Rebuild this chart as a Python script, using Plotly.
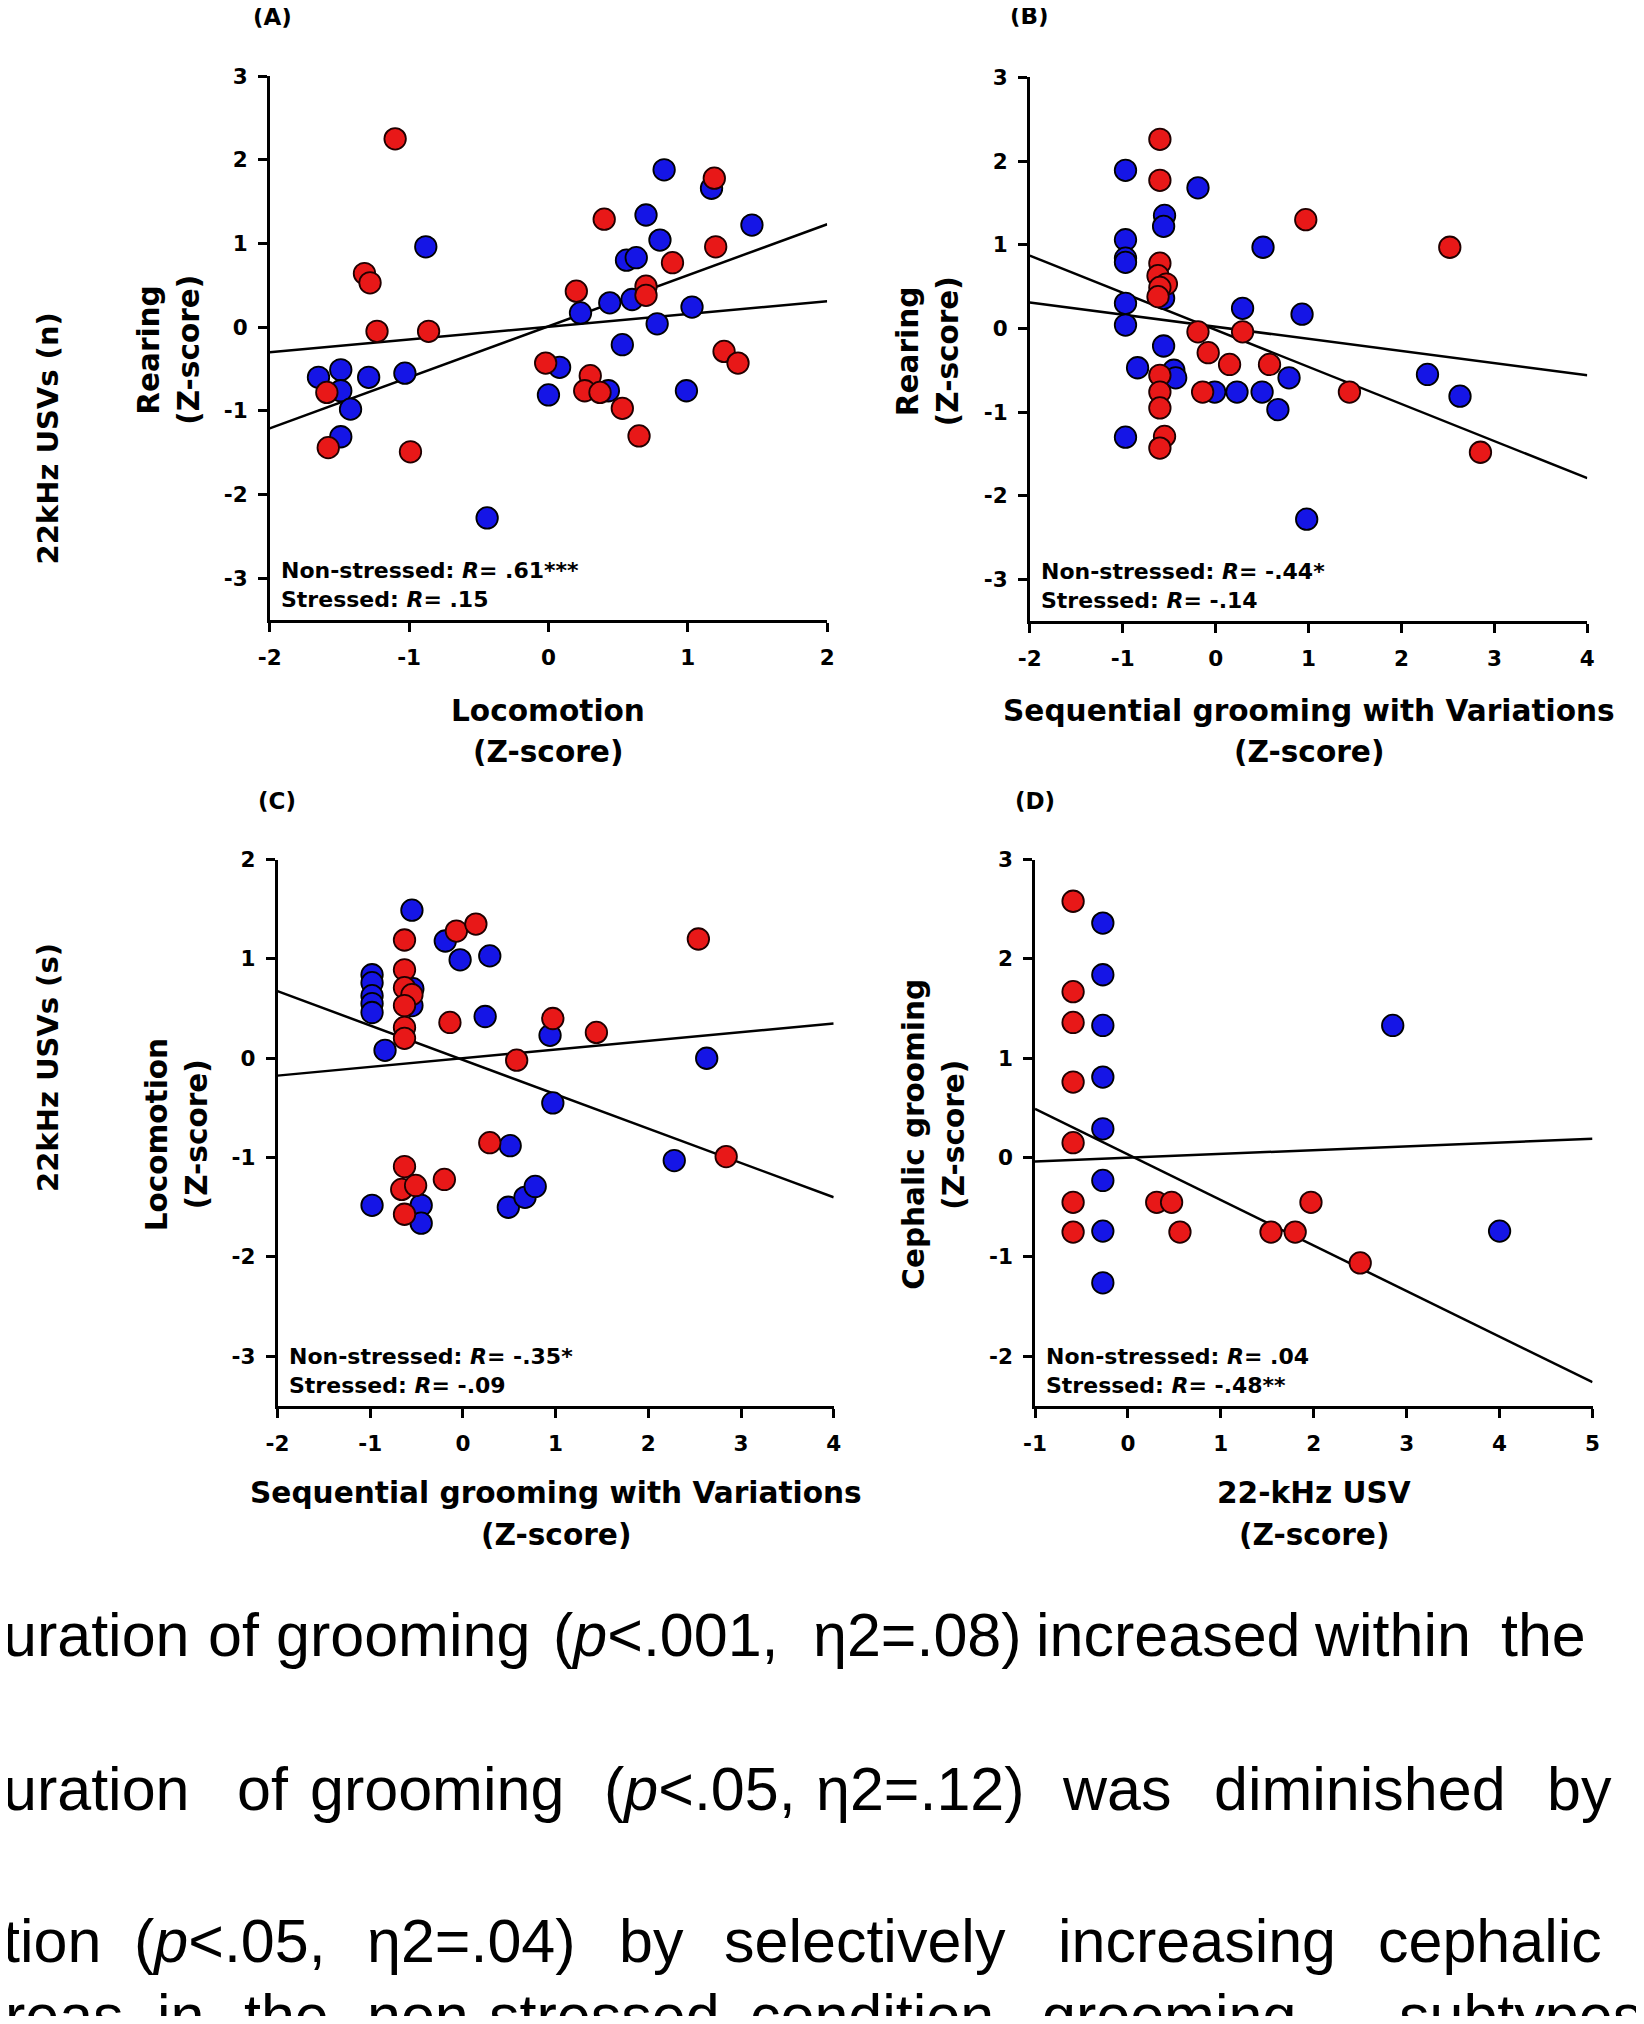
import plotly.graph_objects as go

# Page is 1644x2024; the browser body keeps an 8px margin, so the figure is
# 16px smaller and every page-pixel position is shifted by -8.
PAGE_W, PAGE_H = 1644, 2024
OFF = 8
W, H = PAGE_W - 2 * OFF, PAGE_H - 2 * OFF

# ---------------- DATA ----------------
# Panel A: Rearing vs Locomotion
A_ns_x = [-0.88, -1.65, -1.49, -1.49, -1.42, -1.49, -1.29, -1.03, -0.44, 0.00, 0.08, 0.23, 0.44, 0.53, 0.56, 0.63, 0.60, 0.70, 0.80, 0.78, 0.83, 0.43, 0.99, 1.03, 1.17, 1.46]
A_ns_y = [0.96, -0.60, -0.51, -0.76, -0.98, -1.31, -0.60, -0.55, -2.28, -0.81, -0.48, 0.17, 0.29, -0.21, 0.80, 0.83, 0.33, 1.34, 1.04, 0.04, 1.88, -0.76, -0.76, 0.24, 1.66, 1.22]
A_s_x = [-1.10, -1.32, -1.28, -1.23, -0.86, -1.59, -1.58, -0.99, -0.02, 0.20, 0.40, 0.30, 0.26, 0.37, 0.53, 0.65, 0.70, 0.70, 0.89, 1.19, 1.20, 1.26, 1.36]
A_s_y = [2.25, 0.64, 0.53, -0.05, -0.05, -0.78, -1.44, -1.49, -0.43, 0.43, 1.29, -0.58, -0.76, -0.78, -0.97, -1.30, 0.49, 0.38, 0.77, 1.78, 0.96, -0.29, -0.43]
A_fit_x = [-2, 2]
A_fit_ns = [-1.21, 1.23]
A_fit_s = [-0.30, 0.31]

# Panel B: Rearing vs Sequential grooming with Variations
B_ns_x = [-0.97, -0.97, -0.97, -0.97, -0.97, -0.97, -0.97, -0.84, -0.55, -0.56, -0.56, -0.56, -0.45, -0.43, -0.19, -0.01, 0.23, 0.29, 0.50, 0.51, 0.67, 0.79, 0.93, 0.98, 2.28, 2.63]
B_ns_y = [1.89, 1.06, 0.84, 0.79, 0.30, 0.04, -1.30, -0.47, 1.35, 1.22, 0.36, -0.21, -0.50, -0.59, 1.68, -0.76, -0.76, 0.24, -0.76, 0.97, -0.97, -0.59, 0.17, -2.28, -0.55, -0.81]
B_s_x = [-0.60, -0.60, -0.60, -0.62, -0.53, -0.60, -0.62, -0.19, -0.08, 0.15, 0.29, -0.14, 0.58, 0.97, 1.44, 2.52, 2.85, -0.60, -0.60, -0.60, -0.55, -0.60]
B_s_y = [2.26, 1.77, 0.78, 0.63, 0.53, 0.49, 0.38, -0.04, -0.29, -0.43, -0.04, -0.76, -0.43, 1.30, -0.76, 0.97, -1.48, -0.56, -0.76, -0.95, -1.29, -1.43]
B_fit_x = [-2, 4]
B_fit_ns = [0.87, -1.79]
B_fit_s = [0.31, -0.56]

# Panel C: Locomotion vs Sequential grooming with Variations
C_ns_x = [-0.98, -0.98, -0.98, -0.98, -0.98, -0.84, -0.55, -0.54, -0.55, -0.19, -0.03, 0.29, 0.24, 0.94, 0.97, 2.63, 2.28, 0.51, -0.98, -0.45, -0.45, 0.49, 0.67, 0.78]
C_ns_y = [0.84, 0.76, 0.63, 0.55, 0.46, 0.08, 1.49, 0.70, 0.53, 1.18, 0.99, 1.03, 0.42, 0.23, -0.45, 0.00, -1.03, -0.88, -1.48, -1.48, -1.66, -1.50, -1.40, -1.29]
C_s_x = [-0.63, -0.63, -0.63, -0.55, -0.63, -0.63, -0.63, -0.07, 0.14, -0.14, 0.58, 0.97, 1.44, 2.54, 2.84, 0.29, -0.63, -0.66, -0.51, -0.20, -0.63]
C_s_y = [1.19, 0.89, 0.71, 0.64, 0.53, 0.31, 0.20, 1.28, 1.35, 0.36, -0.02, 0.40, 0.26, 1.20, -0.99, -0.85, -1.09, -1.32, -1.28, -1.22, -1.57]
C_fit_x = [-2, 4]
C_fit_ns = [0.675, -1.40]
C_fit_s = [-0.175, 0.35]

# Panel D: Cephalic grooming vs 22-kHz USV
D_ns_x = [-0.27, -0.27, -0.27, -0.27, -0.27, -0.27, -0.27, -0.27, 2.85, 4.00]
D_ns_y = [2.36, 1.84, 1.33, 0.81, 0.29, -0.23, -0.74, -1.26, 1.33, -0.74]
D_s_x = [-0.59, -0.59, -0.59, -0.59, -0.59, -0.59, -0.59, 0.31, 0.47, 0.56, 1.54, 1.80, 1.97, 2.50]
D_s_y = [2.58, 1.67, 1.36, 0.76, 0.15, -0.45, -0.75, -0.45, -0.45, -0.75, -0.75, -0.75, -0.45, -1.06]
D_fit_x = [-1, 5]
D_fit_ns = [-0.04, 0.19]
D_fit_s = [0.49, -2.26]

panel_labels = ["(A)", "(B)", "(C)", "(D)"]
x_titles = [["Locomotion", "(Z-score)"],
            ["Sequential grooming with Variations", "(Z-score)"],
            ["Sequential grooming with Variations", "(Z-score)"],
            ["22-kHz USV", "(Z-score)"]]
y_titles = [["Rearing", "(Z-score)"], ["Rearing", "(Z-score)"],
            ["Locomotion", "(Z-score)"], ["Cephalic grooming", "(Z-score)"]]
r_texts = [["Non-stressed: <i>R</i>= .61***", "Stressed: <i>R</i>= .15"],
           ["Non-stressed: <i>R</i>= -.44*", "Stressed: <i>R</i>= -.14"],
           ["Non-stressed: <i>R</i>= -.35*", "Stressed: <i>R</i>= -.09"],
           ["Non-stressed: <i>R</i>= .04", "Stressed: <i>R</i>= -.48**"]]
x_ranges = [[-2, 2], [-2, 4], [-2, 4], [-1, 5]]
y_ranges = [[-3.5, 3], [-3.5, 3], [-3.5, 2], [-2.5, 3]]
x_ticks = [[-2, -1, 0, 1, 2], [-2, -1, 0, 1, 2, 3, 4], [-2, -1, 0, 1, 2, 3, 4], [-1, 0, 1, 2, 3, 4, 5]]
y_ticks = [[-3, -2, -1, 0, 1, 2, 3], [-3, -2, -1, 0, 1, 2, 3], [-3, -2, -1, 0, 1, 2], [-2, -1, 0, 1, 2, 3]]
side_labels = ["22kHz USVs (n)", "22kHz USVs (s)"]

para_lines = [
    [("uration", 5), ("of", 210), ("grooming", 278), ("(<i>p</i>&lt;.001,", 555), ("η2=.08)", 815),
     ("increased", 1038), ("within", 1316), ("the", 1503)],
    [("uration", 5), ("of", 239), ("grooming", 312), ("(<i>p</i>&lt;.05,", 606), ("η2=.12)", 818),
     ("was", 1064), ("diminished", 1216), ("by", 1549)],
    [("tion", 5), ("(<i>p</i>&lt;.05,", 136), ("η2=.04)", 369), ("by", 621), ("selectively", 726),
     ("increasing", 1060), ("cephalic", 1380)],
    [("areas", -27), ("in", 159), ("the", 246), ("non-stressed", 369), ("condition", 752),
     ("grooming", 1044), ("subtypes", 1401)],
]
para_baselines = [1656, 1810, 1962, 2037]

# ---------------- LAYOUT GEOMETRY (page pixels) ----------------
boxes = [  # x0, x1, ytop, ybottom
    (269.7, 827.2, 76.1, 620.0),
    (1029.8, 1587.3, 77.4, 621.3),
    (277.5, 833.7, 859.5, 1406.0),
    (1035.0, 1592.5, 859.5, 1406.0),
]
label_pos = [(272, 17), (1030, 16), (277, 801), (1035, 801)]
xtitle_base = [(721, 762), (721, 762), (1503, 1545), (1503, 1545)]

BOLD = "DejaVu Sans"
REG = "Liberation Sans"
BLUE = "#1515e6"
RED = "#e81818"


def px(x):
    return (x - OFF) / W


def py(y):
    return 1 - (y - OFF) / H


fig = go.Figure()
annotations = []


def ann(text, x, y, size, family=BOLD, weight="bold", angle=0, xanchor="center"):
    annotations.append(dict(text=text, x=px(x), y=py(y), xref="paper", yref="paper",
                            showarrow=False, xanchor=xanchor, yanchor="middle",
                            textangle=angle,
                            font=dict(family=family, size=size, color="black", weight=weight)))


panels = [
    (A_ns_x, A_ns_y, A_s_x, A_s_y, A_fit_x, A_fit_ns, A_fit_s),
    (B_ns_x, B_ns_y, B_s_x, B_s_y, B_fit_x, B_fit_ns, B_fit_s),
    (C_ns_x, C_ns_y, C_s_x, C_s_y, C_fit_x, C_fit_ns, C_fit_s),
    (D_ns_x, D_ns_y, D_s_x, D_s_y, D_fit_x, D_fit_ns, D_fit_s),
]

layout_axes = {}
for i, (nsx, nsy, sx, sy, fx, fns, fs) in enumerate(panels):
    n = "" if i == 0 else str(i + 1)
    xa, ya = "x" + n, "y" + n
    for yy in (fns, fs):
        fig.add_trace(go.Scatter(x=fx, y=yy, mode="lines", xaxis=xa, yaxis=ya,
                                 line=dict(color="black", width=2.5), hoverinfo="skip"))
    fig.add_trace(go.Scatter(x=nsx, y=nsy, mode="markers", xaxis=xa, yaxis=ya,
                             marker=dict(size=21.5, color=BLUE, line=dict(color="black", width=1.8))))
    fig.add_trace(go.Scatter(x=sx, y=sy, mode="markers", xaxis=xa, yaxis=ya,
                             marker=dict(size=21.5, color=RED, line=dict(color="#200000", width=1.8))))
    x0, x1, yt, yb = boxes[i]
    common = dict(showline=True, linecolor="black", linewidth=2.6, ticks="outside",
                  ticklen=9, tickwidth=2.6, tickcolor="black", showgrid=False,
                  zeroline=False, automargin=False,
                  tickfont=dict(family=BOLD, size=21.5, color="black", weight="bold"))
    layout_axes["xaxis" + n] = dict(domain=[px(x0), px(x1)], range=x_ranges[i],
                                    tickvals=x_ticks[i], ticktext=[str(v) for v in x_ticks[i]],
                                    anchor=ya, ticklabelstandoff=7, **common)
    layout_axes["yaxis" + n] = dict(domain=[py(yb), py(yt)], range=y_ranges[i],
                                    tickvals=y_ticks[i], ticktext=[str(v) for v in y_ticks[i]],
                                    anchor=xa, ticklabelstandoff=6, **common)
    # panel label
    ann(panel_labels[i], label_pos[i][0], label_pos[i][1], 23)
    # x title
    xc = (x0 + x1) / 2
    ann(x_titles[i][0], xc, xtitle_base[i][0] - 10, 29.6)
    ann(x_titles[i][1], xc, xtitle_base[i][1] - 10, 29.6)
    # y title
    yc = (yt + yb) / 2 + 2
    ann(y_titles[i][0], x0 - 121, yc, 29.5, angle=-90)
    ann(y_titles[i][1], x0 - 81, yc, 29.5, angle=-90)
    # correlation text
    ann(r_texts[i][0], x0 + 9, yb - 42 - 7.6, 22, xanchor="left")
    ann(r_texts[i][1], x0 + 9, yb - 13 - 7.6, 22, xanchor="left")

# side labels
ann(side_labels[0], 48, 438.5, 29, angle=-90)
ann(side_labels[1], 48, 1068, 29, angle=-90)

# paragraph text
PFS = 61
for words, base in zip(para_lines, para_baselines):
    for w, x in words:
        ann(w, x - 4, base - 0.3465 * PFS, PFS, family=REG, weight="normal", xanchor="left")

fig.update_layout(width=W, height=H, margin=dict(l=0, r=0, t=0, b=0),
                  paper_bgcolor="white", plot_bgcolor="white", showlegend=False,
                  template="none", annotations=annotations, **layout_axes)

fig.write_html("out.html", config={"displayModeBar": False})
